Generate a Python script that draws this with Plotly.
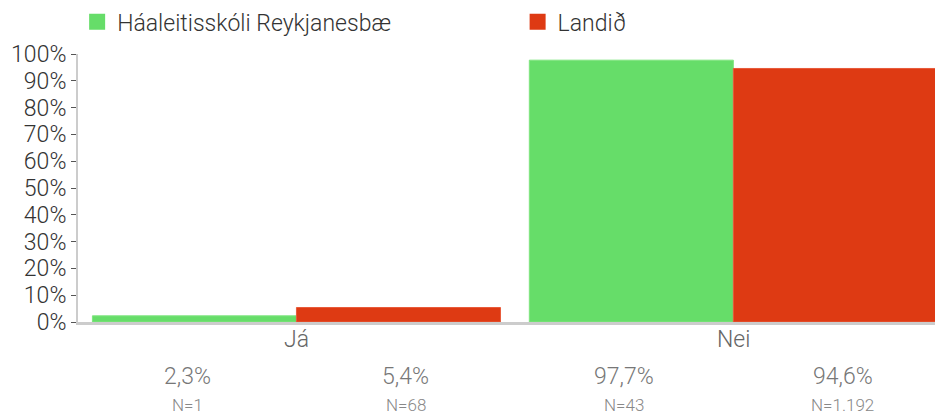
import plotly.graph_objects as go

categories = ["Já", "Nei"]
series_names = ["Háaleitisskóli Reykjanesbæ", "Landið"]
school_values = [2.3, 97.7]
land_values = [5.4, 94.6]
school_pct_labels = ["2,3%", "97,7%"]
land_pct_labels = ["5,4%", "94,6%"]
school_n_labels = ["N=1", "N=43"]
land_n_labels = ["N=68", "N=1.192"]
y_ticks = [0, 10, 20, 30, 40, 50, 60, 70, 80, 90, 100]
y_tick_text = [f"{v}%" for v in y_ticks]

FONT = "Roboto, sans-serif"
GREEN = "#66DD69"
RED = "#DE3A13"

fig = go.Figure()
fig.add_trace(go.Bar(x=categories, y=school_values, name=series_names[0], showlegend=False,
                     marker=dict(color=GREEN, line=dict(color="#7fe57f", width=1))))
fig.add_trace(go.Bar(x=categories, y=land_values, name=series_names[1], showlegend=False,
                     marker=dict(color=RED, line=dict(color="#e85a3a", width=1))))
# legend entries
fig.add_trace(go.Scatter(x=[None], y=[None], mode="markers", name=series_names[0],
                         marker=dict(symbol="square", size=18, color=GREEN), legend="legend"))
fig.add_trace(go.Scatter(x=[None], y=[None], mode="markers", name=series_names[1],
                         marker=dict(symbol="square", size=18, color=RED), legend="legend2"))

annotations = []
for i, cat in enumerate(categories):
    annotations.append(dict(x=i, xref="x", y=-0.067, yref="paper", text=cat,
                            showarrow=False, yanchor="middle",
                            font=dict(family=FONT, size=23, color="#666666", weight=300)))
    for off, pct, n in [(-0.25, school_pct_labels[i], school_n_labels[i]),
                        (0.25, land_pct_labels[i], land_n_labels[i])]:
        annotations.append(dict(x=i + off, xref="x", y=-0.2015, yref="paper", text=pct,
                                showarrow=False, yanchor="middle",
                                font=dict(family=FONT, size=23, color="#777777", weight=300)))
        annotations.append(dict(x=i + off, xref="x", y=-0.31, yref="paper", text=n,
                                showarrow=False, yanchor="middle",
                                font=dict(family=FONT, size=17, color="#888888", weight=300)))

legend_common = dict(orientation="h", yref="container", y=0.966, yanchor="middle",
                     xanchor="left", itemsizing="trace", bgcolor="rgba(0,0,0,0)",
                     font=dict(family=FONT, size=23, color="#333333", weight=300))

fig.update_layout(
    width=935, height=408,
    margin=dict(l=70, r=3, t=46, b=94, autoexpand=False),
    paper_bgcolor="white", plot_bgcolor="white",
    barmode="group", bargap=0.066, bargroupgap=0,
    font=dict(family=FONT, color="#333333"),
    legend=dict(x=-0.001, **legend_common),
    legend2=dict(x=0.51, **legend_common),
    xaxis=dict(range=[-0.5, 1.473], showline=True, linecolor="#cccccc", linewidth=3,
               ticks="", showticklabels=False, showgrid=False, zeroline=False),
    yaxis=dict(range=[0, 100], tickvals=y_ticks, ticktext=y_tick_text, showline=True,
               linecolor="#cccccc", linewidth=2, ticks="outside", ticklen=5,
               tickcolor="#555555", tickfont=dict(family=FONT, size=23, color="#333333", weight=300),
               showgrid=False, zeroline=False),
    annotations=annotations,
)

fig.write_html("out.html")
